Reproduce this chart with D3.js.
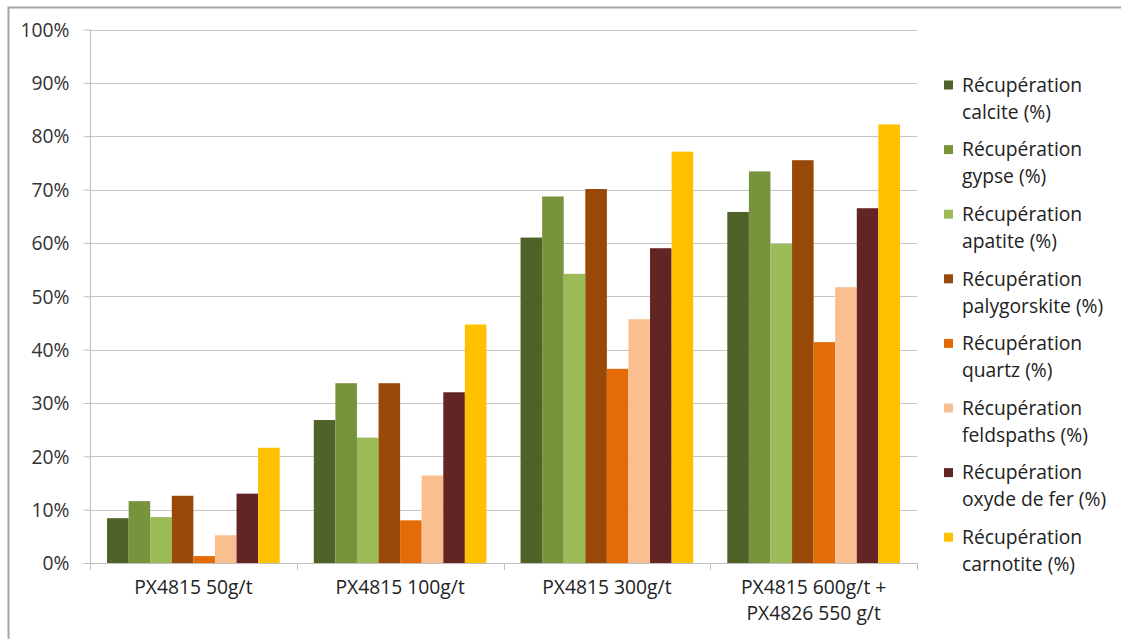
<!DOCTYPE html>
<html><head><meta charset="utf-8">
<script src="https://cdn.jsdelivr.net/npm/d3@7"></script>
<style>body{margin:0;background:#fff}svg{display:block}</style>
</head><body><svg id="c" width="1121" height="639"></svg>
<script>
const categories = [["PX4815 50g/t"],["PX4815 100g/t"],["PX4815 300g/t"],["PX4815 600g/t +","PX4826 550 g/t"]];
const seriesNames = [["Récupération","calcite (%)"],["Récupération","gypse (%)"],["Récupération","apatite (%)"],["Récupération","palygorskite (%)"],["Récupération","quartz (%)"],["Récupération","feldspaths (%)"],["Récupération","oxyde de fer (%)"],["Récupération","carnotite (%)"]];
const calcite = [8.4, 26.8, 61.0, 65.8];
const gypse = [11.6, 33.7, 68.7, 73.4];
const apatite = [8.6, 23.5, 54.2, 59.8];
const palygorskite = [12.6, 33.7, 70.1, 75.5];
const quartz = [1.3, 8.0, 36.4, 41.4];
const feldspaths = [5.2, 16.4, 45.7, 51.7];
const oxydeFer = [13.0, 32.0, 59.0, 66.5];
const carnotite = [21.6, 44.7, 77.1, 82.2];
const yTicks = [0,10,20,30,40,50,60,70,80,90,100];
const colors = ["#4F6228","#77933C","#9BBB59","#984807","#E36C09","#FABF8F","#632523","#FFC000"];

const series = [calcite,gypse,apatite,palygorskite,quartz,feldspaths,oxydeFer,carnotite];
const svg = d3.select("#c");
const font = "'Open Sans', sans-serif";
const fs = 19.3;
const L = 90, R = 917, T = 29.5, B = 563;
const x0 = d3.scaleBand().domain(d3.range(categories.length)).range([L,R]).paddingInner(0.165).paddingOuter(0.0825);
const x1 = d3.scaleBand().domain(d3.range(series.length)).range([0,x0.bandwidth()]);
const y = d3.scaleLinear().domain([0,100]).range([B,T]);

// outer frame
svg.append("path").attr("d","M8.5,639 V7.5 H1121").attr("fill","none").attr("stroke","#a6a6a6").attr("stroke-width",2);

// gridlines
svg.append("g").selectAll("line").data(yTicks.filter(d=>d>0)).join("line")
  .attr("x1",L).attr("x2",R).attr("y1",d=>Math.round(y(d))+0.5).attr("y2",d=>Math.round(y(d))+0.5)
  .attr("stroke","#c6c6c6").attr("stroke-width",1.2);

// y axis
const ya = svg.append("g").attr("transform",`translate(${L+0.5},0)`)
  .call(d3.axisLeft(y).tickValues(yTicks).tickFormat(d=>d+"%").tickSize(7).tickPadding(14));
ya.select(".domain").attr("stroke","#bfbfbf").attr("d",`M0,${B}V${T}`);
ya.selectAll(".tick line").attr("stroke","#bfbfbf");
ya.selectAll("text").attr("font-family",font).attr("font-size",fs).attr("fill","#333").attr("dy","0.35em");

// bars
const g = svg.append("g");
series.forEach((s,i)=>{
  g.append("g").selectAll("rect").data(s).join("rect")
   .attr("x",(d,j)=>x0(j)+x1(i)).attr("width",x1.bandwidth())
   .attr("y",d=>y(d)).attr("height",d=>B-y(d)).attr("fill",colors[i]);
});

// x axis
svg.append("line").attr("x1",L).attr("x2",R).attr("y1",B+0.5).attr("y2",B+0.5).attr("stroke","#bfbfbf");
const bounds = d3.range(categories.length+1).map(i=> i<categories.length ? x0(i)-x0.step()*x0.paddingInner()/2 : R);
svg.append("g").selectAll("line").data(bounds).join("line")
  .attr("x1",d=>Math.round(d)+0.5).attr("x2",d=>Math.round(d)+0.5).attr("y1",B).attr("y2",B+7).attr("stroke","#bfbfbf");
const cl = svg.append("g").selectAll("text").data(categories).join("text")
  .attr("x",(d,i)=>x0(i)+x0.bandwidth()/2).attr("y",594)
  .attr("text-anchor","middle").attr("font-family",font).attr("font-size",fs).attr("fill","#222");
cl.selectAll("tspan").data(d=>d).join("tspan").attr("x",function(){return this.parentNode.getAttribute("x");})
  .attr("dy",(d,i)=>i===0?0:26).text(d=>d);

// legend
const lg = svg.append("g").selectAll("g").data(seriesNames).join("g")
  .attr("transform",(d,i)=>`translate(944,${85+i*64.6})`);
lg.append("rect").attr("x",0).attr("y",-4.5).attr("width",9).attr("height",9).attr("fill",(d,i)=>colors[i]);
const lt = lg.append("text").attr("x",18).attr("y",0).attr("font-family",font).attr("font-size",fs).attr("fill","#222");
lt.selectAll("tspan").data(d=>d).join("tspan").attr("x",18).attr("dy",(d,i)=>i===0?"0.35em":27).text(d=>d);
</script></body></html>
